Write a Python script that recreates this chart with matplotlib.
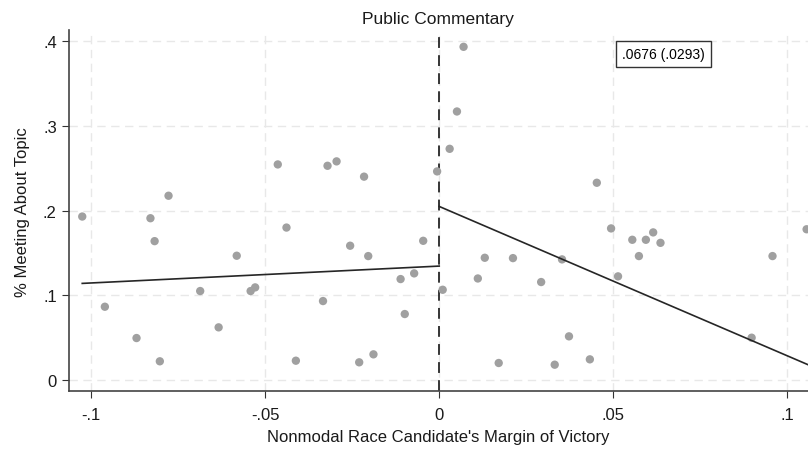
import matplotlib.pyplot as plt
import numpy as np

plt.rcParams['font.family'] = ['Liberation Sans', 'DejaVu Sans']

# binned means, left of cutoff
left_x = [-0.1026, -0.0961, -0.0870, -0.0830, -0.0818, -0.0803, -0.0778, -0.0687,
          -0.0634, -0.0582, -0.0542, -0.0529, -0.0464, -0.0439, -0.0412, -0.0334,
          -0.0321, -0.0295, -0.0256, -0.0230, -0.0216, -0.0204, -0.0189, -0.0111,
          -0.0099, -0.0072, -0.0046, -0.0006]
left_y = [0.193, 0.0867, 0.0498, 0.191, 0.164, 0.0224, 0.2175, 0.1052,
          0.0624, 0.1468, 0.1052, 0.1095, 0.2544, 0.180, 0.0231, 0.0934,
          0.2528, 0.258, 0.1586, 0.0212, 0.240, 0.1464, 0.0306, 0.1193,
          0.0781, 0.126, 0.1644, 0.2462]

# binned means, right of cutoff
right_x = [0.0010, 0.0030, 0.0051, 0.0070, 0.0111, 0.0131, 0.0171, 0.0212,
           0.0293, 0.0332, 0.0353, 0.0373, 0.0433, 0.0453, 0.0494, 0.0514,
           0.0555, 0.0574, 0.0594, 0.0615, 0.0636, 0.0898, 0.0958, 0.1056]
right_y = [0.1067, 0.2728, 0.3168, 0.393, 0.120, 0.1444, 0.0204, 0.144,
           0.1158, 0.0184, 0.1425, 0.0518, 0.0247, 0.2328, 0.179, 0.1225,
           0.1656, 0.1464, 0.1656, 0.1743, 0.162, 0.0502, 0.1464, 0.178]

# fitted lines (endpoints)
left_fit_x = [-0.1026, 0.0]
left_fit_y = [0.1142, 0.1346]
right_fit_x = [0.0, 0.106]
right_fit_y = [0.2049, 0.0184]

estimate_label = '.0676 (.0293)'
xticks = [-0.1, -0.05, 0, 0.05, 0.1]
xticklabels = ['-.1', '-.05', '0', '.05', '.1']
yticks = [0, 0.1, 0.2, 0.3, 0.4]
yticklabels = ['0', '.1', '.2', '.3', '.4']

fig = plt.figure(figsize=(8.08, 4.52), dpi=100)
ax = fig.add_axes([0.085, 0.132, 0.915, 0.799])

ax.set_xlim(-0.1065, 0.106)
ax.set_ylim(-0.013, 0.4126)

for t in xticks:
    ax.axvline(t, color='#e8e8e8', lw=1, ls=(0, (6, 4)), zorder=0)
for t in yticks:
    ax.axhline(t, color='#e8e8e8', lw=1, ls=(0, (6, 4)), zorder=0)

ax.scatter(left_x, left_y, s=36, color='#a0a0a0', edgecolors='none', zorder=3)
ax.scatter(right_x, right_y, s=36, color='#a0a0a0', edgecolors='none', zorder=3)

ax.plot(left_fit_x, left_fit_y, color='#262626', lw=1.2, zorder=4)
ax.plot(right_fit_x, right_fit_y, color='#262626', lw=1.2, zorder=4)

ax.axvline(0, color='#262626', lw=1.3, ls=(0, (6, 4)), zorder=2)

ax.text(0.0645, 0.3843, estimate_label, fontsize=10, ha='center', va='center',
        bbox=dict(boxstyle='square,pad=0.45', fc='white', ec='#333333', lw=1))

ax.set_xticks(xticks)
ax.set_xticklabels(xticklabels)
ax.set_yticks(yticks)
ax.set_yticklabels(yticklabels)
ax.tick_params(labelsize=12, length=5, color='#333333', labelcolor='#1a1a1a')
ax.tick_params(axis='x', pad=6.5)

for s in ['top', 'right']:
    ax.spines[s].set_visible(False)
for s in ['left', 'bottom']:
    ax.spines[s].set_color('#444444')
    ax.spines[s].set_linewidth(1.2)

ax.set_xlabel("Nonmodal Race Candidate's Margin of Victory", fontsize=12,
              color='#1a1a1a', labelpad=5)
ax.set_ylabel('% Meeting About Topic', fontsize=12, color='#1a1a1a', labelpad=9)
ax.set_title('Public Commentary', fontsize=12.5, color='#1a1a1a', pad=5)

fig.savefig('out.png', dpi=100)
